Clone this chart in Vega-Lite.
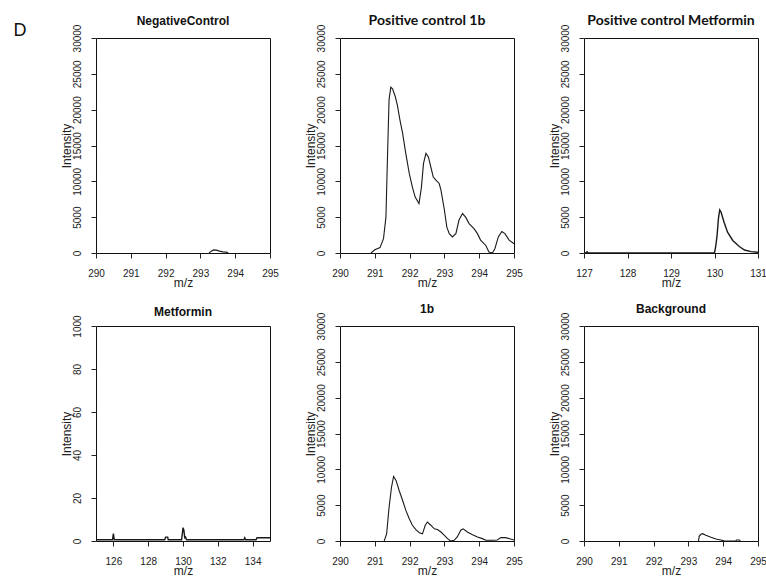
{
  "$schema": "https://vega.github.io/schema/vega-lite/v6.json",
  "background": "white",
  "padding": {"left": 13, "top": 13, "right": 5, "bottom": 5},
  "title": {"text": "D", "anchor": "start", "frame": "bounds", "font": "Liberation Sans", "fontSize": 18, "fontWeight": "normal", "baseline": "alphabetic", "dx": -46, "offset": -40, "color": "#111"},
  "data": {"values": [
    {"panel": "NC", "mz": 293.25, "intensity": 0},
    {"panel": "NC", "mz": 293.3, "intensity": 220},
    {"panel": "NC", "mz": 293.38, "intensity": 430},
    {"panel": "NC", "mz": 293.46, "intensity": 400},
    {"panel": "NC", "mz": 293.55, "intensity": 260},
    {"panel": "NC", "mz": 293.65, "intensity": 160},
    {"panel": "NC", "mz": 293.75, "intensity": 120},
    {"panel": "NC", "mz": 293.8, "intensity": 0},

    {"panel": "P1b", "mz": 290.89, "intensity": 0},
    {"panel": "P1b", "mz": 291.0, "intensity": 450},
    {"panel": "P1b", "mz": 291.15, "intensity": 750},
    {"panel": "P1b", "mz": 291.25, "intensity": 2000},
    {"panel": "P1b", "mz": 291.32, "intensity": 5000},
    {"panel": "P1b", "mz": 291.37, "intensity": 14400},
    {"panel": "P1b", "mz": 291.41, "intensity": 21400},
    {"panel": "P1b", "mz": 291.46, "intensity": 23150},
    {"panel": "P1b", "mz": 291.51, "intensity": 22900},
    {"panel": "P1b", "mz": 291.59, "intensity": 21800},
    {"panel": "P1b", "mz": 291.65, "intensity": 20600},
    {"panel": "P1b", "mz": 291.72, "intensity": 18600},
    {"panel": "P1b", "mz": 291.8, "intensity": 16700},
    {"panel": "P1b", "mz": 291.89, "intensity": 13900},
    {"panel": "P1b", "mz": 291.99, "intensity": 11100},
    {"panel": "P1b", "mz": 292.08, "intensity": 9200},
    {"panel": "P1b", "mz": 292.16, "intensity": 7800},
    {"panel": "P1b", "mz": 292.27, "intensity": 6900},
    {"panel": "P1b", "mz": 292.34, "intensity": 9200},
    {"panel": "P1b", "mz": 292.4, "intensity": 12500},
    {"panel": "P1b", "mz": 292.47, "intensity": 13900},
    {"panel": "P1b", "mz": 292.54, "intensity": 13400},
    {"panel": "P1b", "mz": 292.61, "intensity": 12000},
    {"panel": "P1b", "mz": 292.68, "intensity": 10600},
    {"panel": "P1b", "mz": 292.75, "intensity": 10200},
    {"panel": "P1b", "mz": 292.85, "intensity": 9700},
    {"panel": "P1b", "mz": 292.9, "intensity": 8800},
    {"panel": "P1b", "mz": 293.0, "intensity": 6000},
    {"panel": "P1b", "mz": 293.07, "intensity": 3600},
    {"panel": "P1b", "mz": 293.14, "intensity": 2700},
    {"panel": "P1b", "mz": 293.23, "intensity": 2250},
    {"panel": "P1b", "mz": 293.33, "intensity": 2700},
    {"panel": "P1b", "mz": 293.42, "intensity": 4600},
    {"panel": "P1b", "mz": 293.52, "intensity": 5500},
    {"panel": "P1b", "mz": 293.61, "intensity": 5000},
    {"panel": "P1b", "mz": 293.71, "intensity": 4100},
    {"panel": "P1b", "mz": 293.85, "intensity": 3400},
    {"panel": "P1b", "mz": 293.95, "intensity": 2700},
    {"panel": "P1b", "mz": 294.04, "intensity": 1800},
    {"panel": "P1b", "mz": 294.19, "intensity": 1050},
    {"panel": "P1b", "mz": 294.28, "intensity": 150},
    {"panel": "P1b", "mz": 294.38, "intensity": 0},
    {"panel": "P1b", "mz": 294.45, "intensity": 600},
    {"panel": "P1b", "mz": 294.55, "intensity": 2250},
    {"panel": "P1b", "mz": 294.65, "intensity": 3000},
    {"panel": "P1b", "mz": 294.74, "intensity": 2700},
    {"panel": "P1b", "mz": 294.86, "intensity": 1800},
    {"panel": "P1b", "mz": 295.0, "intensity": 1300},

    {"panel": "PM", "mz": 127.0, "intensity": 0},
    {"panel": "PM", "mz": 127.04, "intensity": 0},
    {"panel": "PM", "mz": 127.07, "intensity": 180},
    {"panel": "PM", "mz": 127.1, "intensity": 0},
    {"panel": "PM", "mz": 130.0, "intensity": 0},
    {"panel": "PM", "mz": 130.03, "intensity": 1000},
    {"panel": "PM", "mz": 130.06, "intensity": 2500},
    {"panel": "PM", "mz": 130.09, "intensity": 4800},
    {"panel": "PM", "mz": 130.12, "intensity": 6000},
    {"panel": "PM", "mz": 130.15, "intensity": 5700},
    {"panel": "PM", "mz": 130.22, "intensity": 4300},
    {"panel": "PM", "mz": 130.3, "intensity": 2900},
    {"panel": "PM", "mz": 130.42, "intensity": 1750},
    {"panel": "PM", "mz": 130.57, "intensity": 900},
    {"panel": "PM", "mz": 130.69, "intensity": 420},
    {"panel": "PM", "mz": 130.84, "intensity": 190},
    {"panel": "PM", "mz": 131.0, "intensity": 100},

    {"panel": "MET", "mz": 125.0, "intensity": 0.6},
    {"panel": "MET", "mz": 125.95, "intensity": 0.6},
    {"panel": "MET", "mz": 126.0, "intensity": 3.5},
    {"panel": "MET", "mz": 126.05, "intensity": 0.6},
    {"panel": "MET", "mz": 128.95, "intensity": 0.6},
    {"panel": "MET", "mz": 129.0, "intensity": 1.8},
    {"panel": "MET", "mz": 129.12, "intensity": 1.8},
    {"panel": "MET", "mz": 129.15, "intensity": 0.6},
    {"panel": "MET", "mz": 129.92, "intensity": 0.6},
    {"panel": "MET", "mz": 129.97, "intensity": 4},
    {"panel": "MET", "mz": 130.0, "intensity": 6.2},
    {"panel": "MET", "mz": 130.05, "intensity": 5},
    {"panel": "MET", "mz": 130.1, "intensity": 1.5},
    {"panel": "MET", "mz": 130.15, "intensity": 1.8},
    {"panel": "MET", "mz": 130.2, "intensity": 0.6},
    {"panel": "MET", "mz": 133.5, "intensity": 0.6},
    {"panel": "MET", "mz": 133.55, "intensity": 1.5},
    {"panel": "MET", "mz": 133.6, "intensity": 0.6},
    {"panel": "MET", "mz": 134.2, "intensity": 0.6},
    {"panel": "MET", "mz": 134.25, "intensity": 1.5},
    {"panel": "MET", "mz": 135.0, "intensity": 1.5},

    {"panel": "B1", "mz": 291.27, "intensity": 0},
    {"panel": "B1", "mz": 291.34, "intensity": 1000},
    {"panel": "B1", "mz": 291.41, "intensity": 4700},
    {"panel": "B1", "mz": 291.48, "intensity": 7500},
    {"panel": "B1", "mz": 291.54, "intensity": 9000},
    {"panel": "B1", "mz": 291.61, "intensity": 8450},
    {"panel": "B1", "mz": 291.7, "intensity": 7050},
    {"panel": "B1", "mz": 291.8, "intensity": 5650},
    {"panel": "B1", "mz": 291.89, "intensity": 4300},
    {"panel": "B1", "mz": 291.99, "intensity": 3100},
    {"panel": "B1", "mz": 292.08, "intensity": 2200},
    {"panel": "B1", "mz": 292.18, "intensity": 1600},
    {"panel": "B1", "mz": 292.28, "intensity": 1150},
    {"panel": "B1", "mz": 292.37, "intensity": 1000},
    {"panel": "B1", "mz": 292.45, "intensity": 2200},
    {"panel": "B1", "mz": 292.51, "intensity": 2650},
    {"panel": "B1", "mz": 292.61, "intensity": 2200},
    {"panel": "B1", "mz": 292.71, "intensity": 1700},
    {"panel": "B1", "mz": 292.8, "intensity": 1600},
    {"panel": "B1", "mz": 292.9, "intensity": 1250},
    {"panel": "B1", "mz": 293.0, "intensity": 800},
    {"panel": "B1", "mz": 293.09, "intensity": 330},
    {"panel": "B1", "mz": 293.18, "intensity": 0},
    {"panel": "B1", "mz": 293.28, "intensity": 100},
    {"panel": "B1", "mz": 293.37, "intensity": 560},
    {"panel": "B1", "mz": 293.47, "intensity": 1500},
    {"panel": "B1", "mz": 293.54, "intensity": 1700},
    {"panel": "B1", "mz": 293.66, "intensity": 1250},
    {"panel": "B1", "mz": 293.81, "intensity": 880},
    {"panel": "B1", "mz": 293.95, "intensity": 560},
    {"panel": "B1", "mz": 294.09, "intensity": 330},
    {"panel": "B1", "mz": 294.19, "intensity": 100},
    {"panel": "B1", "mz": 294.4, "intensity": 100},
    {"panel": "B1", "mz": 294.52, "intensity": 140},
    {"panel": "B1", "mz": 294.62, "intensity": 470},
    {"panel": "B1", "mz": 294.76, "intensity": 470},
    {"panel": "B1", "mz": 294.9, "intensity": 280},
    {"panel": "B1", "mz": 295.0, "intensity": 140},

    {"panel": "BG", "mz": 293.29, "intensity": 0},
    {"panel": "BG", "mz": 293.31, "intensity": 650},
    {"panel": "BG", "mz": 293.36, "intensity": 930},
    {"panel": "BG", "mz": 293.41, "intensity": 1020},
    {"panel": "BG", "mz": 293.5, "intensity": 800},
    {"panel": "BG", "mz": 293.65, "intensity": 510},
    {"panel": "BG", "mz": 293.79, "intensity": 280},
    {"panel": "BG", "mz": 293.93, "intensity": 140},
    {"panel": "BG", "mz": 294.0, "intensity": 50},
    {"panel": "BG", "mz": 294.03, "intensity": 0},
    {"panel": "BG", "mz": 294.36, "intensity": 0},
    {"panel": "BG", "mz": 294.38, "intensity": 140},
    {"panel": "BG", "mz": 294.47, "intensity": 140},
    {"panel": "BG", "mz": 294.49, "intensity": 0}
  ]},
  "columns": 3,
  "spacing": {"row": 73, "column": 70},
  "bounds": "flush",
  "concat": [
    {
      "width": 174, "height": 215,
      "title": {"text": "NegativeControl"},
      "transform": [{"filter": "datum.panel === 'NC'"}],
      "mark": {"type": "line", "color": "#1a1a1a", "strokeWidth": 1.1, "clip": true},
      "encoding": {
        "x": {"field": "mz", "type": "quantitative", "title": "m/z", "scale": {"domain": [290, 295], "nice": false, "zero": false}, "axis": {"values": [290, 291, 292, 293, 294, 295]}},
        "y": {"field": "intensity", "type": "quantitative", "title": "Intensity", "scale": {"domain": [0, 30000], "nice": false}, "axis": {"values": [0, 5000, 10000, 15000, 20000, 25000, 30000], "format": "d"}}
      }
    },
    {
      "width": 174, "height": 215,
      "title": {"text": "Positive control 1b", "font": "Lato", "fontSize": 14},
      "transform": [{"filter": "datum.panel === 'P1b'"}],
      "mark": {"type": "line", "color": "#1a1a1a", "strokeWidth": 1.1, "clip": true},
      "encoding": {
        "x": {"field": "mz", "type": "quantitative", "title": "m/z", "scale": {"domain": [290, 295], "nice": false, "zero": false}, "axis": {"values": [290, 291, 292, 293, 294, 295]}},
        "y": {"field": "intensity", "type": "quantitative", "title": "Intensity", "scale": {"domain": [0, 30000], "nice": false}, "axis": {"values": [0, 5000, 10000, 15000, 20000, 25000, 30000], "format": "d"}}
      }
    },
    {
      "width": 174, "height": 215,
      "title": {"text": "Positive control Metformin", "font": "Lato", "fontSize": 14},
      "transform": [{"filter": "datum.panel === 'PM'"}],
      "mark": {"type": "line", "color": "#1a1a1a", "strokeWidth": 1.4, "clip": true},
      "encoding": {
        "x": {"field": "mz", "type": "quantitative", "title": "m/z", "scale": {"domain": [127, 131], "nice": false, "zero": false}, "axis": {"values": [127, 128, 129, 130, 131]}},
        "y": {"field": "intensity", "type": "quantitative", "title": "Intensity", "scale": {"domain": [0, 30000], "nice": false}, "axis": {"values": [0, 5000, 10000, 15000, 20000, 25000, 30000], "format": "d"}}
      }
    },
    {
      "width": 174, "height": 215,
      "title": {"text": "Metformin"},
      "transform": [{"filter": "datum.panel === 'MET'"}],
      "mark": {"type": "line", "color": "#1a1a1a", "strokeWidth": 1.4, "clip": true},
      "encoding": {
        "x": {"field": "mz", "type": "quantitative", "title": "m/z", "scale": {"domain": [125, 135], "nice": false, "zero": false}, "axis": {"values": [126, 128, 130, 132, 134]}},
        "y": {"field": "intensity", "type": "quantitative", "title": "Intensity", "scale": {"domain": [0, 100], "nice": false}, "axis": {"values": [0, 20, 40, 60, 80, 100], "format": "d", "labelExpr": "datum.value === 100 ? '1000' : datum.label"}}
      }
    },
    {
      "width": 174, "height": 215,
      "title": {"text": "1b"},
      "transform": [{"filter": "datum.panel === 'B1'"}],
      "mark": {"type": "line", "color": "#1a1a1a", "strokeWidth": 1.1, "clip": true},
      "encoding": {
        "x": {"field": "mz", "type": "quantitative", "title": "m/z", "scale": {"domain": [290, 295], "nice": false, "zero": false}, "axis": {"values": [290, 291, 292, 293, 294, 295]}},
        "y": {"field": "intensity", "type": "quantitative", "title": "Intensity", "scale": {"domain": [0, 30000], "nice": false}, "axis": {"values": [0, 5000, 10000, 15000, 20000, 25000, 30000], "format": "d"}}
      }
    },
    {
      "width": 174, "height": 215,
      "title": {"text": "Background"},
      "transform": [{"filter": "datum.panel === 'BG'"}],
      "mark": {"type": "line", "color": "#1a1a1a", "strokeWidth": 1.1, "clip": true},
      "encoding": {
        "x": {"field": "mz", "type": "quantitative", "title": "m/z", "scale": {"domain": [290, 295], "nice": false, "zero": false}, "axis": {"values": [290, 291, 292, 293, 294, 295]}},
        "y": {"field": "intensity", "type": "quantitative", "title": "Intensity", "scale": {"domain": [0, 30000], "nice": false}, "axis": {"values": [0, 5000, 10000, 15000, 20000, 25000, 30000], "format": "d"}}
      }
    }
  ],
  "config": {
    "view": {"stroke": "#111", "strokeWidth": 1},
    "axis": {"grid": false, "domain": false, "ticks": true, "tickColor": "#222", "tickSize": 5, "tickWidth": 1, "labelFont": "Liberation Sans", "labelFontSize": 10, "labelColor": "#222", "titleFont": "Liberation Sans", "titleFontSize": 12, "titleFontWeight": "normal", "titleColor": "#222", "labelOverlap": false, "labelFlush": false},
    "axisX": {"labelBaseline": "alphabetic", "labelPadding": 18, "titleBaseline": "alphabetic", "titlePadding": 8},
    "axisY": {"labelAngle": -90, "labelAlign": "center", "labelBaseline": "alphabetic", "labelPadding": 11, "titleBaseline": "alphabetic", "titlePadding": 2},
    "title": {"font": "Liberation Sans", "fontSize": 12, "fontWeight": "bold", "color": "#111", "frame": "group", "anchor": "middle", "baseline": "alphabetic", "offset": -4}
  }
}
